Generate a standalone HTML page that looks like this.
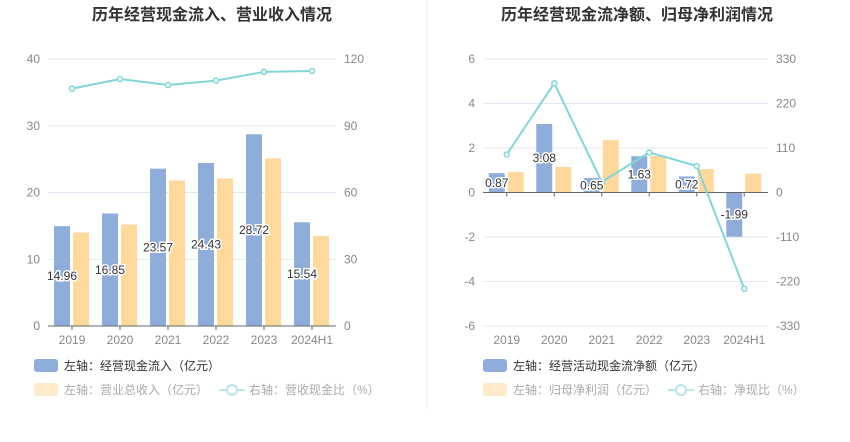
<!DOCTYPE html>
<html><head><meta charset="utf-8"><style>
body{margin:0;background:#fff;width:850px;height:437px;overflow:hidden;font-family:"Liberation Sans","Noto Sans CJK SC",sans-serif}
svg text{font-family:"Liberation Sans","Noto Sans CJK SC",sans-serif}
</style></head><body>
<svg id="c" width="850" height="437"></svg>
<script>
const cats=["2019","2020","2021","2022","2023","2024H1"];
const inflow=[14.96,16.85,23.57,24.43,28.72,15.54];
const revenue=[14.0,15.2,21.8,22.1,25.1,13.5];
const ratio1=[106.7,111,108.3,110.3,114.2,114.6];
const netcf=[0.87,3.08,0.65,1.63,0.72,-1.99];
const profit=[0.92,1.15,2.35,1.65,1.05,0.85];
const ratio2=[94,270,26,99,65.5,-238];
const lt1=[0,10,20,30,40], rt1=[0,30,60,90,120];
const lt2=[-6,-4,-2,0,2,4,6], rt2=[-330,-220,-110,0,110,220,330];
const ns="http://www.w3.org/2000/svg", svg=document.getElementById('c');
function el(t,a,p){const e=document.createElementNS(ns,t);for(const k in a)e.setAttribute(k,a[k]);(p||svg).appendChild(e);return e;}
function txt(x,y,s,a){const e=el('text',Object.assign({x:x,y:y},a));e.textContent=s;return e;}

function chart(o){
  const g=el('g',{});
  
  
  const t=txt(o.tx,20,o.title,{'text-anchor':'middle','font-size':16,'font-weight':'bold',fill:'#333'},g);
  
  
  const yL=v=>o.y0+(v-o.lmin)/(o.lmax-o.lmin)*(o.y1-o.y0);
  const yR=v=>o.y0+(v-o.rmin)/(o.rmax-o.rmin)*(o.y1-o.y0);
  const bw=(o.x1-o.x0)/cats.length, cx=i=>o.x0+bw*(i+0.5);
  o.lt.forEach((v,i)=>{
    const y=yL(v);
    if(v!==0){const l=el('line',{x1:o.x0,x2:o.x1,y1:y,y2:y,stroke:'#e3e7f3'},g);}
    const a=txt(o.x0-8,y+4,String(v),{'text-anchor':'end','font-size':12,fill:'#888'},g);
    
    const b=txt(o.x1+8,y+4,String(o.rt[i]),{'font-size':12,fill:'#888'},g);
    
  });
  const z=yL(0);
  cats.forEach((c,i)=>{
    const b1=o.s1[i],b2=o.s2[i];
    const r1=el('rect',{x:cx(i)-18,width:16,y:Math.min(yL(b1),z),height:Math.abs(yL(b1)-z),fill:'#8eadda'},g);
    
    const r2=el('rect',{x:cx(i)+1,width:16,y:Math.min(yL(b2),z),height:Math.abs(yL(b2)-z),fill:'#fed99b'},g);
    
    const xl=txt(cx(i),z===o.y0?o.y0+18:o.y0+18,c,{'text-anchor':'middle','font-size':12,fill:'#888'},g);
    xl.setAttribute('y',Math.max(o.y0,o.y1)+18);
    
    const tk=el('line',{x1:cx(i),x2:cx(i),y1:z,y2:z+4,stroke:'#666'},g);
    
  });
  const ax=el('line',{x1:o.x0,x2:o.x1,y1:z,y2:z,stroke:'#666'},g);
  
  const pts=o.r.map((v,i)=>cx(i)+','+yR(v)).join(' ');
  const pl=el('polyline',{points:pts,fill:'none',stroke:'#80d6d8','stroke-width':2},g);
  
  o.r.forEach((v,i)=>{const p=el('circle',{cx:cx(i),cy:yR(v),r:2.5,fill:'#fff',stroke:'#80d6d8','stroke-width':1.5},g);
    });
  o.s1.forEach((v,i)=>{const y=(yL(v)+z)/2+4;
    const l=txt(cx(i)-10,y,v.toFixed(2),{'text-anchor':'middle','font-size':12,fill:'#333',stroke:'#fff','stroke-width':3,'paint-order':'stroke'},g);
    });
  // legend
  const L=o.leg;
  const a=el('rect',{x:L.x,y:359,width:24,height:13,rx:3,fill:'#8eadda'},g);
  const at=txt(L.x+30,370,L.t1,{'font-size':12,fill:'#333'},g);
  const b=el('rect',{x:L.x,y:383,width:24,height:13,rx:3,fill:'#feebc9'},g);
  const bt=txt(L.x+30,394,L.t2,{'font-size':12,fill:'#aaa'},g);
  const ll=el('line',{x1:L.x3,x2:L.x3+26,y1:390,y2:390,stroke:'#b6e8e9','stroke-width':2},g);
  const lc=el('circle',{cx:L.x3+13,cy:390,r:5,fill:'#fff',stroke:'#b6e8e9','stroke-width':2},g);
  const ct=txt(L.x3+30,394,L.t3,{'font-size':12,fill:'#aaa'},g);
}
chart({name:'left-chart',title:'历年经营现金流入、营业收入情况',tx:212,x0:48,x1:336,y0:326,y1:59,lmin:0,lmax:40,rmin:0,rmax:120,lt:lt1,rt:rt1,s1:inflow,s2:revenue,r:ratio1,
  leg:{x:34,x3:219,t1:'左轴：经营现金流入（亿元）',t2:'左轴：营业总收入（亿元）',t3:'右轴：营收现金比（%）'}});
chart({name:'right-chart',title:'历年经营现金流净额、归母净利润情况',tx:637,x0:483,x1:768,y0:326,y1:59,lmin:-6,lmax:6,rmin:-330,rmax:330,lt:lt2,rt:rt2,s1:netcf,s2:profit,r:ratio2,
  leg:{x:483,x3:668,t1:'左轴：经营活动现金流净额（亿元）',t2:'左轴：归母净利润（亿元）',t3:'右轴：净现比（%）'}});
const d=el('line',{x1:427,x2:427,y1:0,y2:410,stroke:'#eee'});


</script>
</body></html>
